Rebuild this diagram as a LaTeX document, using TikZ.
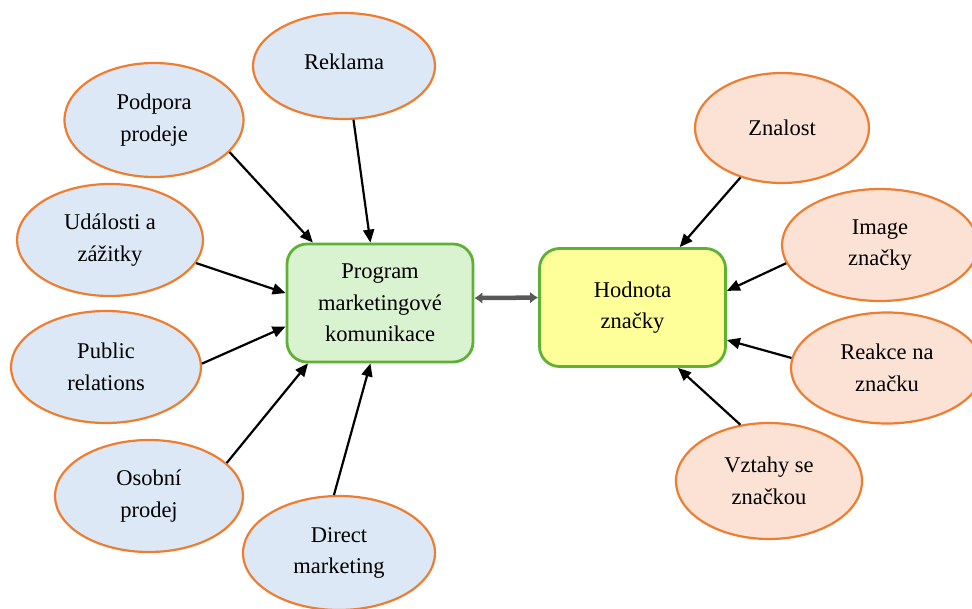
\documentclass[tikz,border=0pt]{standalone}
\usepackage{fontspec}
\setmainfont{Liberation Serif}
\usetikzlibrary{shapes.geometric,arrows.meta}

\definecolor{orng}{HTML}{ED7D31}
\definecolor{lblue}{HTML}{DCE8F5}
\definecolor{lpeach}{HTML}{FBE2D5}
\definecolor{lgreen}{HTML}{D9F2D0}
\definecolor{lyellow}{HTML}{FFFF99}
\definecolor{grn}{HTML}{5EB135}

\begin{document}
\begin{tikzpicture}[x=1pt,y=-1pt,>={Triangle[length=13pt,width=11pt]},
  font=\fontsize{22.5}{31.5}\selectfont,
  tool/.style={ellipse,draw=orng,line width=2.2pt,fill=lblue,minimum width=186pt,
    minimum height=112pt,inner sep=0pt,align=center},
  value/.style={tool,fill=lpeach},
  box/.style={rectangle,rounded corners=20pt,draw=grn,line width=2.8pt,
    minimum width=186pt,minimum height=118pt,align=center}]
\useasboundingbox (0,0) rectangle (972,608);

% komunikace (vlevo)
\node[tool,minimum width=179pt,minimum height=114pt] (m_pod) at (154,120) {Podpora\\prodeje};
\node[tool,minimum width=182pt,minimum height=106pt] (m_rek) at (344,66) {\raisebox{8pt}{Reklama}};
\node[tool] (m_uda) at (110,240) {Události a\\zážitky};
\node[tool,minimum width=190pt] (m_pub) at (106,367) {Public\\relations};
\node[tool,minimum width=188pt] (m_oso) at (149,496) {Osobní\\prodej};
\node[tool,minimum width=192pt,minimum height=114pt] (m_dir) at (339,553) {Direct\\marketing};

\node[box,fill=lgreen] (prog) at (380,303) {Program\\marketingové\\komunikace};
\node[box,fill=lyellow] (hod) at (632.5,307.5) {Hodnota\\značky};

% hodnota (vpravo)
\node[value,minimum width=174pt,minimum height=110pt] (h_zna) at (782,128) {Znalost};
\node[value,minimum width=196pt] (h_ima) at (880,245) {Image\\značky};
\node[value,minimum width=192pt,minimum height=111pt] (h_rea) at (887,368) {Reakce na\\značku};
\node[value,minimum height=116pt] (h_vzt) at (769,481) {Vztahy se\\značkou};

\path[->,line width=2.2pt]
(m_pod.337) edge (prog.138)
(m_rek.280) edge (prog.99)
(m_uda.345) edge (prog.174)
(m_pub.2) edge (prog.194.5)
(m_oso.23) edge (prog.220.3)
(m_dir.95) edge (prog.261)

(h_zna.230) edge (hod.52.4)
(h_ima.191) edge (hod.10.5)
(h_rea.174) edge (hod.341.6)
(h_vzt.117) edge (hod.307.8)
; %end path

\draw[{Latex[length=8pt,width=12pt]}-{Latex[length=8pt,width=12pt]},line width=4.5pt,
  draw=gray!70!black] (prog.3) -- (hod.174.3);
\end{tikzpicture}
\end{document}
